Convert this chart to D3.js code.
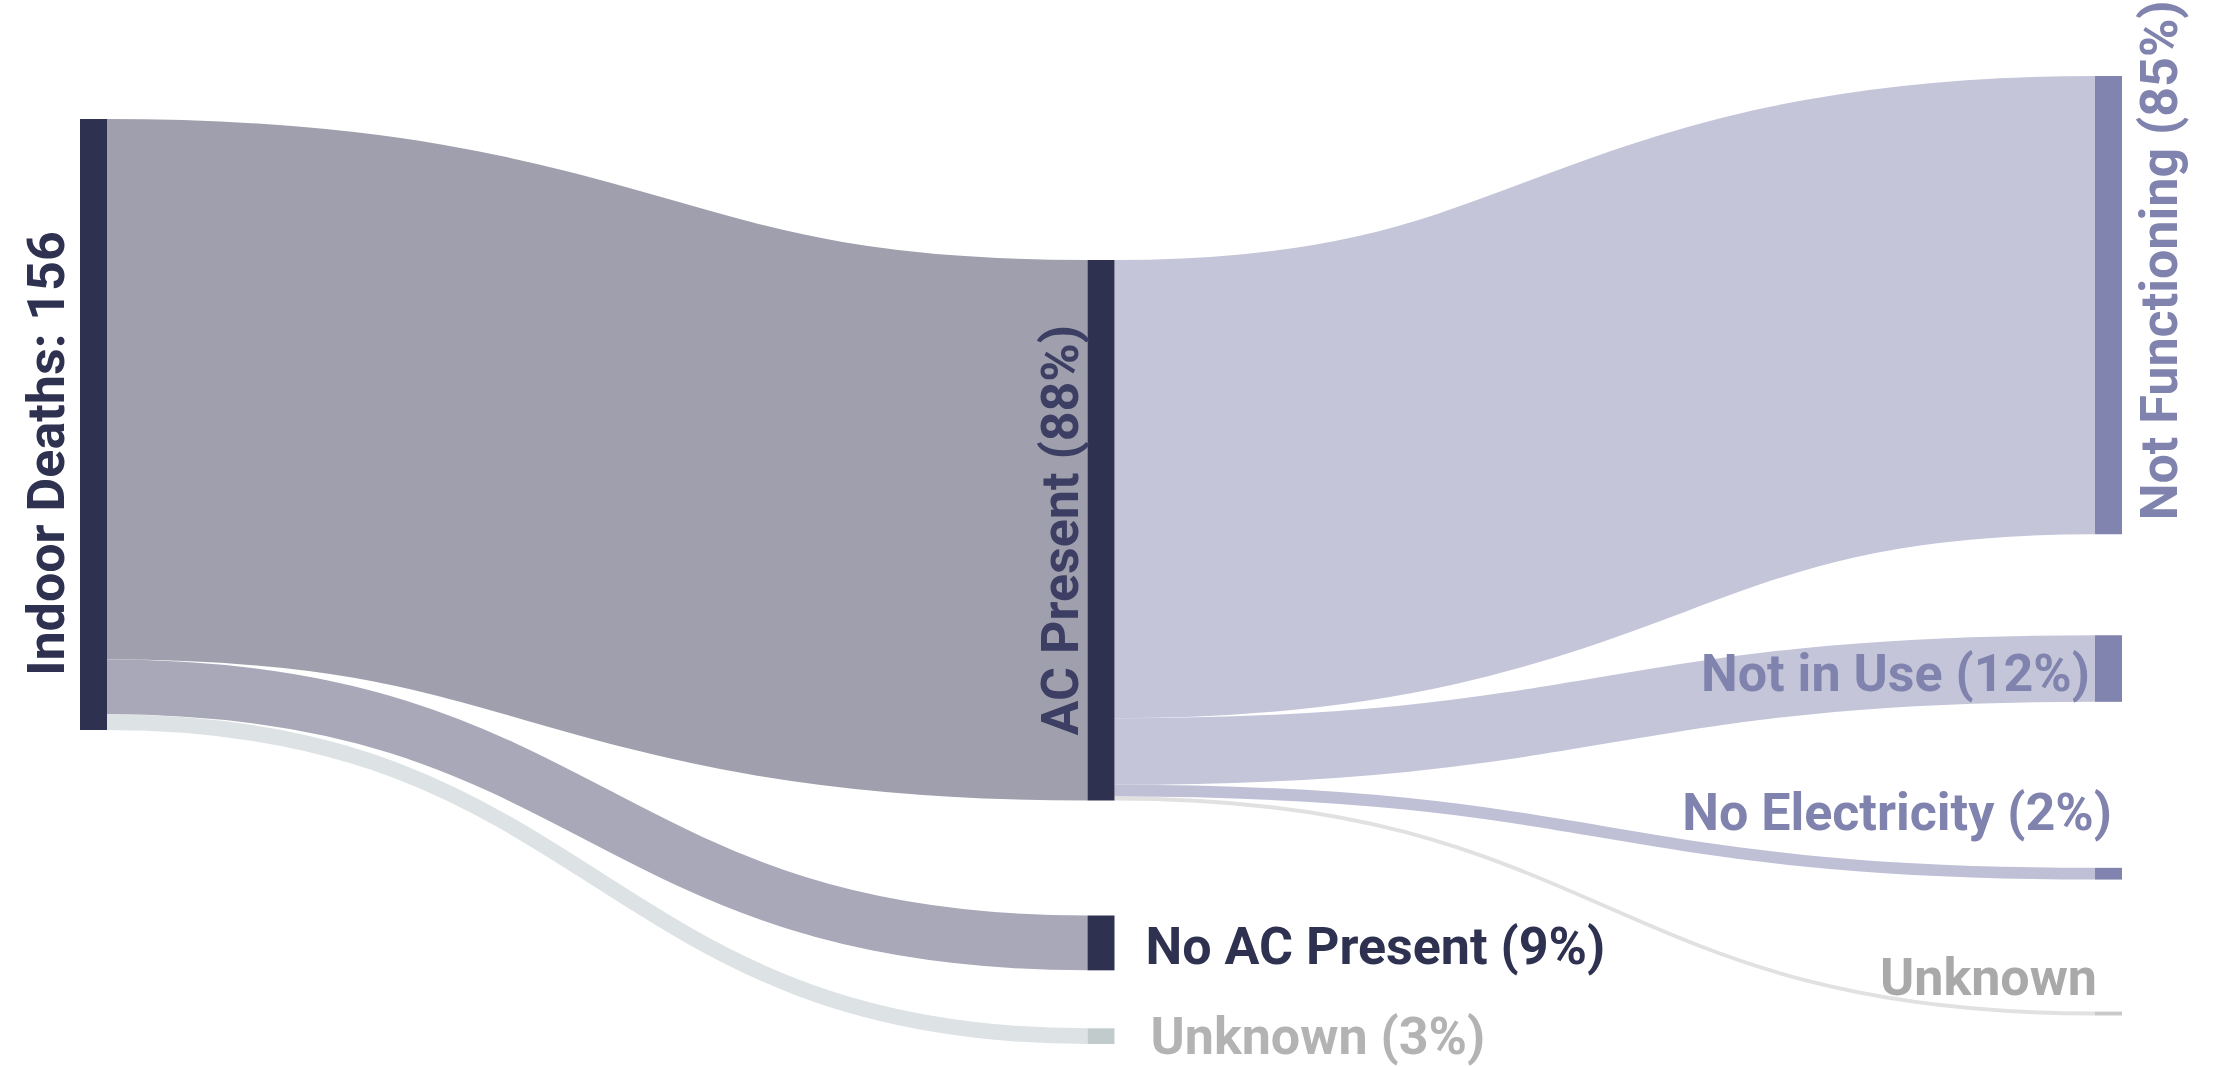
<!DOCTYPE html>
<html>
<head>
<meta charset="utf-8">
<script src="https://cdn.jsdelivr.net/npm/d3@7/dist/d3.min.js"></script>
<style>
    body { margin: 0; background: #ffffff; }
    svg text { font-family: Roboto, "Noto Sans", sans-serif; font-weight: 700; }
</style>
</head>
<body>
<script>
// ---- data ----
var nodeIds    = ["indoor", "acPresent", "noAc", "unknownAc", "notFunctioning", "notInUse", "noElectricity", "unknownUse"];
var nodeLabels = ["Indoor Deaths: 156", "AC Present (88%)", "No AC Present (9%)", "Unknown (3%)",
                  "Not Functioning (85%)", "Not in Use (12%)", "No Electricity (2%)", "Unknown"];
var nodeColumn = [0, 1, 1, 1, 2, 2, 2, 2];

var linkSource = ["indoor", "indoor", "indoor", "acPresent", "acPresent", "acPresent", "acPresent"];
var linkTarget = ["acPresent", "noAc", "unknownAc", "notFunctioning", "notInUse", "noElectricity", "unknownUse"];
var linkValue  = [138, 14, 4, 117, 17, 3, 1];

var totalDeaths = 156;

(function(){

    var w = 2216;
    var h = 1067;
    var nodeWidth = 27;

    // layout: column positions, first node top per column, gap above each node (px)
    var colX = d3.scalePoint().domain([0, 1, 2]).range([80, 2095]);
    var colTop = [119, 260, 76];
    var nodeGap = [0, 0, 115, 58, 0, 101, 166, 132];

    // styles
    var nodeFill  = ["#2e3150", "#2e3150", "#2e3150", "#c2cbcb", "#8184ae", "#8184ae", "#8184ae", "#c9c9c9"];
    var linkFill  = ["#a09fad", "#a8a8b9", "#dde3e5", "#c4c5d9", "#c4c5d9", "#bfc0d6", "#e1e1e1"];
    var labelFill = ["#2e3150", "#3c3f63", "#2e3150", "#b3b3b3", "#8083ad", "#8083ad", "#8083ad", "#a9a9a9"];

    var y = d3.scaleLinear().domain([0, totalDeaths]).range([0, 611]);

    var svg = d3.select("body")
        .append("svg")
        .attr("width", w)
        .attr("height", h);

    // build nodes
    var nodes = nodeIds.map(function(id, i) {
        return { id: id, index: i, label: nodeLabels[i], col: nodeColumn[i], inValue: 0, outValue: 0 };
    });
    var byId = {};
    nodes.forEach(function(n) { byId[n.id] = n; });

    var links = linkValue.map(function(v, i) {
        var s = byId[linkSource[i]], t = byId[linkTarget[i]];
        s.outValue += v;
        t.inValue += v;
        return { source: s, target: t, value: v, index: i };
    });

    // position nodes column by column
    var cursor = colTop.slice();
    nodes.forEach(function(n) {
        n.value = Math.max(n.inValue, n.outValue);
        n.x0 = colX(n.col);
        n.x1 = n.x0 + nodeWidth;
        n.y0 = cursor[n.col] + nodeGap[n.index];
        n.y1 = n.y0 + y(n.value);
        cursor[n.col] = n.y1;
        n.sy = n.y0;
        n.ty = n.y0;
    });

    // stack links on both ends
    links.forEach(function(l) {
        l.width = y(l.value);
        l.y0 = l.source.sy + l.width / 2;
        l.source.sy += l.width;
        l.y1 = l.target.ty + l.width / 2;
        l.target.ty += l.width;
    });

    var linkPath = d3.linkHorizontal()
        .source(function(d) { return [d.source.x1, d.y0]; })
        .target(function(d) { return [d.target.x0, d.y1]; });

    svg.append("g")
        .attr("fill", "none")
        .selectAll("path")
        .data(links)
        .enter()
        .append("path")
        .attr("d", linkPath)
        .attr("stroke", function(d) { return linkFill[d.index]; })
        .attr("stroke-width", function(d) { return d.width; });

    svg.append("g")
        .selectAll("rect")
        .data(nodes)
        .enter()
        .append("rect")
        .attr("x", function(d) { return d.x0; })
        .attr("y", function(d) { return d.y0; })
        .attr("width", nodeWidth)
        .attr("height", function(d) { return d.y1 - d.y0; })
        .attr("fill", function(d) { return nodeFill[d.index]; });

    // label placement relative to each node
    var labelPos = {
        indoor:         function(n) { return { x: n.x0 - 16, y: (n.y0 + n.y1) / 2 + 29, rot: true,  anchor: "middle" }; },
        acPresent:      function(n) { return { x: n.x0 - 10, y: (n.y0 + n.y1) / 2,      rot: true,  anchor: "middle" }; },
        noAc:           function(n) { return { x: n.x1 + 31, y: (n.y0 + n.y1) / 2 + 21, rot: false, anchor: "start" }; },
        unknownAc:      function(n) { return { x: n.x1 + 36, y: (n.y0 + n.y1) / 2 + 18, rot: false, anchor: "start" }; },
        notFunctioning: function(n) { return { x: n.x1 + 55, y: n.y1 - 14,              rot: true,  anchor: "start" }; },
        notInUse:       function(n) { return { x: n.x0 - 5,  y: (n.y0 + n.y1) / 2 + 22, rot: false, anchor: "end" }; },
        noElectricity:  function(n) { return { x: n.x0 + 17, y: n.y0 - 38,              rot: false, anchor: "end" }; },
        unknownUse:     function(n) { return { x: n.x0 + 2,  y: n.y0 - 17,              rot: false, anchor: "end" }; }
    };

    svg.append("g")
        .selectAll("text")
        .data(nodes)
        .enter()
        .append("text")
        .attr("transform", function(d) {
            var p = labelPos[d.id](d);
            return "translate(" + p.x + "," + p.y + ")" + (p.rot ? " rotate(-90)" : "");
        })
        .attr("text-anchor", function(d) { return labelPos[d.id](d).anchor; })
        .attr("font-size", 52)
        .attr("fill", function(d) { return labelFill[d.index]; })
        .text(function(d) { return d.label; });
}());
</script>
</body>
</html>
